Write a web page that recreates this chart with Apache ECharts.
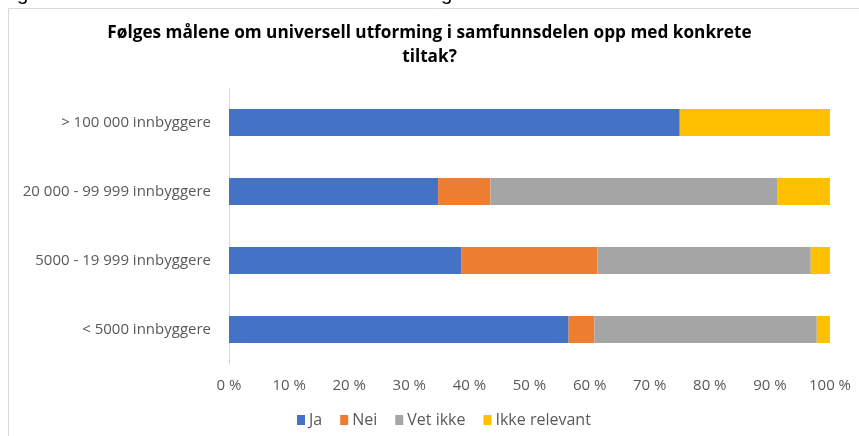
<!DOCTYPE html>
<html>
  <head>
    <meta charset="utf-8">
    <title></title>
    <style media="screen">
    html, body {margin:0; padding:0; background:#fff;}
    .box {width:859px; height:436px; overflow:hidden;}
    </style>
    <script src="https://cdn.jsdelivr.net/npm/echarts@6/dist/echarts.min.js" charset="utf-8"></script>
    <script>
    // kategorier, ovenfra og ned
    const categories=['> 100 000 innbyggere', '20 000 - 99 999 innbyggere', '5000 - 19 999 innbyggere', '< 5000 innbyggere'];
    const seriesNames=['Ja', 'Nei', 'Vet ikke', 'Ikke relevant'];
    const ja=[75, 34.8, 38.7, 56.5];
    const nei=[0, 8.7, 22.6, 4.3];
    const vetIkke=[0, 47.8, 35.5, 37.0];
    const ikkeRelevant=[25, 8.7, 3.2, 2.2];
    const colors=['#4472C4', '#ED7D31', '#A5A5A5', '#FFC000'];

    window.onload=function (){
      let chart=echarts.init(document.querySelector('.box'));
      let values=[ja, nei, vetIkke, ikkeRelevant];
      let labelFont='"Open Sans", "Noto Sans", sans-serif';

      let option={
        animation: false,
        color: colors,
        title: {
          text: 'Følges målene om universell utforming i samfunnsdelen opp med konkrete\ntiltak?',
          left: 'center',
          top: 16,
          textStyle: {fontFamily: labelFont, fontWeight: 'bold', fontSize: 17.2, color: '#000', lineHeight: 24}
        },
        graphic: [
          {
            type: 'rect',
            shape: {x: 8.5, y: 8.5, width: 900, height: 500},
            style: {fill: 'none', stroke: '#d9d9d9', lineWidth: 1},
            silent: true
          },
          {
            type: 'text',
            left: 0,
            top: -16,
            style: {text: 'Figur 6.2.6: Konkrete tiltak for universell utforming', font: '20.5px "Liberation Sans", Arial, sans-serif', fill: '#000'}
          }
        ],
        legend: {
          data: seriesNames,
          bottom: 3,
          left: 292,
          itemWidth: 8,
          itemHeight: 10,
          itemGap: 18,
          icon: 'rect',
          textStyle: {fontFamily: labelFont, fontSize: 16, color: '#595959', padding: [0, 0, 0, -1]}
        },
        grid: {left: 229, right: 29, top: 88, bottom: 72, containLabel: false},
        xAxis: {
          type: 'value',
          min: 0,
          max: 100,
          interval: 10,
          axisLine: {show: false},
          axisTick: {show: false},
          splitLine: {show: false},
          axisLabel: {formatter: '{value} %', fontFamily: labelFont, fontSize: 15, color: '#595959', margin: 14}
        },
        yAxis: {
          type: 'category',
          data: categories,
          inverse: true,
          axisLine: {show: true, lineStyle: {color: '#d9d9d9'}},
          axisTick: {show: false},
          axisLabel: {fontFamily: labelFont, fontSize: 15, color: '#595959', margin: 18}
        },
        series: seriesNames.map((name, i)=>({
          name: name,
          type: 'bar',
          stack: 'total',
          barWidth: 27,
          data: values[i]
        }))
      };

      chart.setOption(option);
    };
    </script>
  </head>
  <body>
    <div class="box"></div>
  </body>
</html>
